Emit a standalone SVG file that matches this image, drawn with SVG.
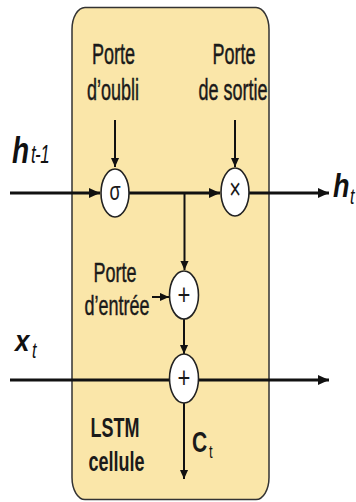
<svg xmlns="http://www.w3.org/2000/svg" width="356" height="502" viewBox="0 0 356 502">
<defs>
<style>
.lbl{font-family:"Liberation Sans",Arial,sans-serif;font-size:18px;fill:#1a1a1a;stroke:#1a1a1a;stroke-width:0.3;text-anchor:middle}
.b{font-weight:bold}
.var{font-family:"Liberation Sans",Arial,sans-serif;font-weight:bold;font-style:italic;font-size:28px;fill:#111}
.sub{font-family:"Liberation Sans",Arial,sans-serif;font-style:italic;font-size:16px;fill:#111}
.op{font-family:"Liberation Sans",Arial,sans-serif;font-size:18px;fill:#1a1a1a;text-anchor:middle}
.gate{fill:#fff;stroke:#222;stroke-width:1.6}
.w3{fill:none;stroke:#111;stroke-width:3}
.w2{fill:none;stroke:#111;stroke-width:2}
</style>
<marker id="ah" markerUnits="userSpaceOnUse" viewBox="0 0 10 10" refX="10" refY="5" markerWidth="11" markerHeight="11" orient="auto">
<path d="M0,0.5 L10,5 L0,9.5 z" fill="#111"/>
</marker>
<marker id="as" markerUnits="userSpaceOnUse" viewBox="0 0 10 10" refX="10" refY="5" markerWidth="9" markerHeight="9" orient="auto">
<path d="M0,0.5 L10,5 L0,9.5 z" fill="#111"/>
</marker>
</defs>
<rect width="356" height="502" fill="#fff"/>
<g id="cell">
<rect x="72" y="7.5" width="197" height="492" rx="13" ry="22" fill="#fae6a9" stroke="#333" stroke-width="1.5"/>
<text class="lbl b" style="stroke-width:0" transform="translate(115,437) scale(1,1.5)">LSTM</text>
<text class="lbl b" style="stroke-width:0" transform="translate(116.5,471) scale(1,1.5)">cellule</text>
</g>
<g id="connectors">
<line class="w3" x1="10" y1="193" x2="100" y2="193" marker-end="url(#ah)"/>
<line class="w3" x1="129" y1="193" x2="220" y2="193" marker-end="url(#ah)"/>
<line class="w3" x1="249" y1="193" x2="329" y2="193" marker-end="url(#ah)"/>
<line class="w2" x1="184.5" y1="193" x2="184.5" y2="270" marker-end="url(#as)"/>
<line class="w2" x1="115" y1="120" x2="115" y2="167" marker-end="url(#as)"/>
<line class="w2" x1="235" y1="120" x2="235" y2="167" marker-end="url(#as)"/>
<line class="w2" x1="152" y1="297" x2="169" y2="297" marker-end="url(#as)"/>
<line class="w2" x1="184" y1="319" x2="184" y2="354" marker-end="url(#as)"/>
<line class="w3" x1="10" y1="380" x2="329" y2="380" marker-end="url(#ah)"/>
<line class="w2" x1="184" y1="403" x2="184" y2="479" marker-end="url(#as)"/>
</g>
<g id="forget">
<text class="lbl" transform="translate(113.5,64) scale(1,1.6)">Porte</text>
<text class="lbl" transform="translate(113,100) scale(1,1.6)">d’oubli</text>
<ellipse class="gate" cx="115" cy="193" rx="14" ry="24"/>
<text class="op" transform="translate(115,200) scale(1,1.45)">σ</text>
</g>
<g id="output">
<text class="lbl" transform="translate(234,64) scale(1,1.6)">Porte</text>
<text class="lbl" transform="translate(233,100) scale(1,1.6)">de sortie</text>
<ellipse class="gate" cx="235" cy="192" rx="14" ry="24"/>
<text class="op" style="font-size:20px" transform="translate(235,199) scale(1,1.5)">×</text>
</g>
<g id="input">
<text class="lbl" transform="translate(115,282) scale(1,1.55)">Porte</text>
<text class="lbl" transform="translate(117,315) scale(1,1.55)">d’entrée</text>
<ellipse class="gate" cx="184" cy="295" rx="14.5" ry="24"/>
<text class="op" style="font-size:22px" transform="translate(184,305) scale(1,1.3)">+</text>
</g>
<g id="sum">
<ellipse class="gate" cx="184" cy="378.5" rx="14.5" ry="24.5"/>
<text class="op" style="font-size:22px" transform="translate(184,388) scale(1,1.3)">+</text>
<text class="lbl b" style="font-size:21px;text-anchor:start;stroke-width:0" transform="translate(192,452) scale(1,1.4)">C</text>
<text class="sub" style="font-style:normal;font-size:13px" transform="translate(209,458) scale(1,1.4)">t</text>
</g>
<g id="h_prev">
<text class="var" transform="translate(12,163) scale(1,1.3)">h</text>
<text class="sub" style="font-size:17px;letter-spacing:-0.6px" transform="translate(31,163) scale(1,1.55)">t-1</text>
</g>
<g id="h_t">
<text class="var" style="font-size:27px" transform="translate(333,197) scale(1,1.25)">h</text>
<text class="sub" transform="translate(350,204) scale(1,1.4)">t</text>
</g>
<g id="x_t">
<text class="var" style="font-size:26px" transform="translate(15,351) scale(1,1.15)">x</text>
<text class="sub" transform="translate(32,358) scale(1,1.4)">t</text>
</g>
</svg>
